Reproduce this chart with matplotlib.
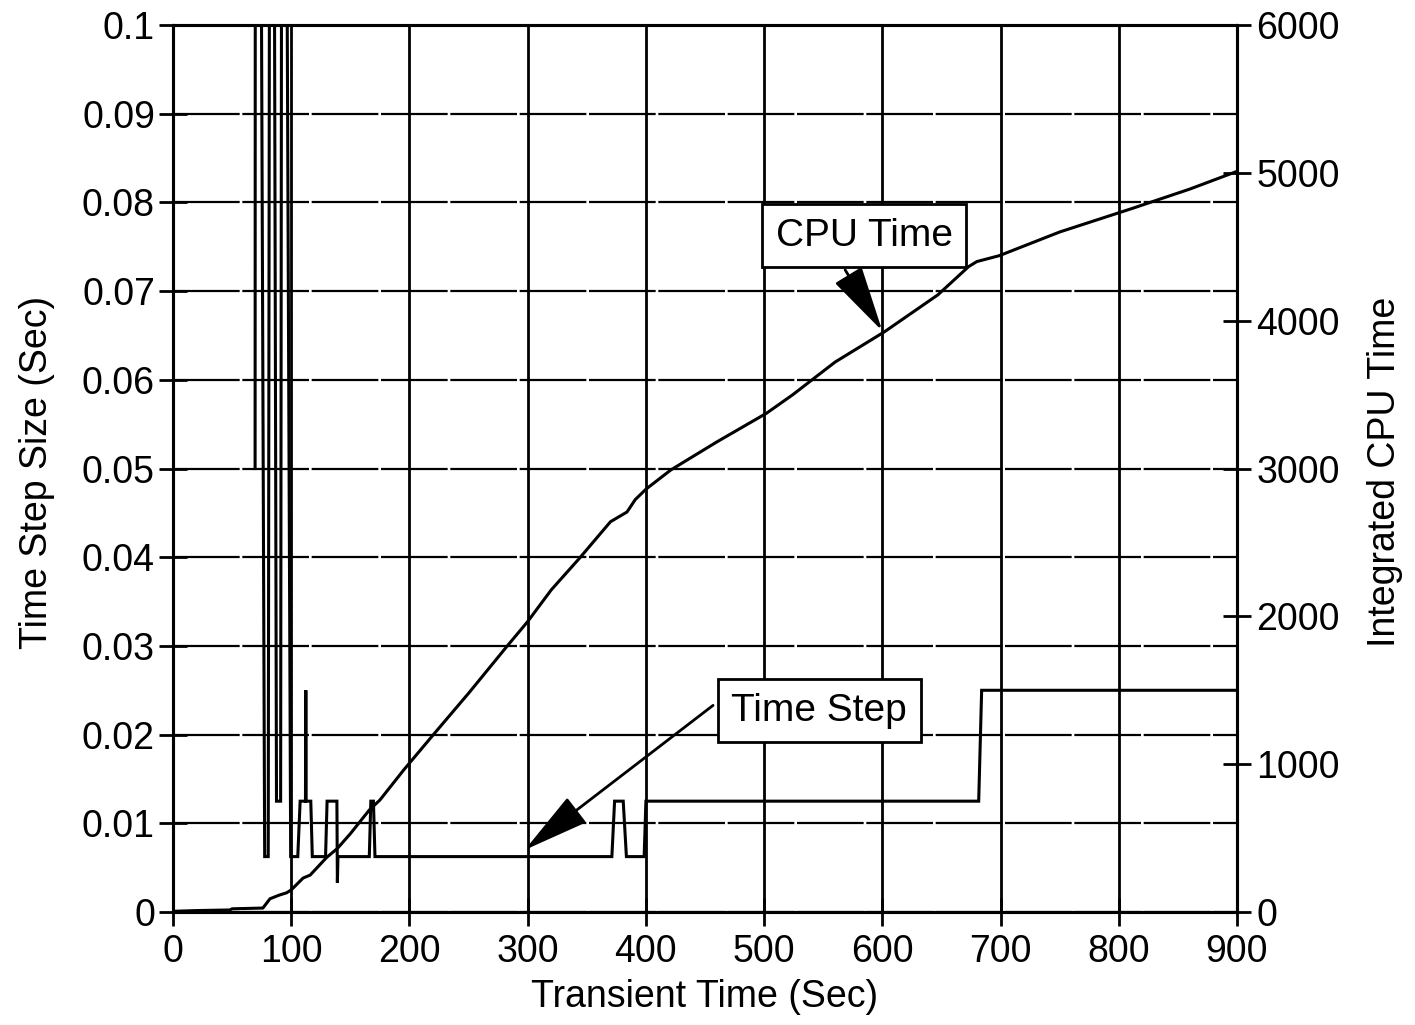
import matplotlib
matplotlib.use("Agg")
import matplotlib.pyplot as plt
from matplotlib.ticker import FixedLocator, FixedFormatter

plt.rcParams['font.family'] = ['Liberation Sans', 'DejaVu Sans']

# ---- data ----
# Time step size (left axis), values >0.1 are off scale (clipped)
ts_time = [69.4, 69.8, 72.0, 77.5, 80.5, 82.5, 84.0, 87.5, 91.0, 92.5, 93.5, 99.5,
           105.5, 107.5, 112.0, 112.3, 112.6, 116.5, 117.8, 129.0, 130.3, 138.6,
           139.0, 139.5, 166.0, 167.3, 169.5, 170.8, 371.2, 373.5, 380.8, 383.5,
           398.5, 400.0, 681.5, 684.0, 900.0]
ts_step = [0.05, 0.2, 0.2, 0.00625, 0.00625, 0.2, 0.2, 0.0125, 0.0125, 0.2, 0.2, 0.00625,
           0.00625, 0.0125, 0.0125, 0.025, 0.0125, 0.0125, 0.00625, 0.00625, 0.0125, 0.0125,
           0.0033, 0.00625, 0.00625, 0.0125, 0.0125, 0.00625, 0.00625, 0.0125, 0.0125, 0.00625,
           0.00625, 0.0125, 0.0125, 0.025, 0.025]

# Integrated CPU time (right axis)
cpu_time = [0, 20, 40, 48, 50, 76, 82, 90, 96, 100, 110, 116, 130, 139, 150, 166, 175,
            195, 220, 250, 282, 300, 320, 344, 370, 384, 391, 400, 421, 460, 502, 524,
            560, 602, 647, 673, 680, 699, 750, 812, 860, 900]
cpu_val = [5, 10, 13, 14, 22, 27, 90, 115, 130, 150, 230, 250, 370, 430, 530, 690, 758,
           960, 1198, 1480, 1793, 1965, 2180, 2395, 2640, 2706, 2790, 2860, 2990, 3180, 3374,
           3498, 3720, 3926, 4175, 4366, 4400, 4440, 4600, 4761, 4890, 5010]

x_ticks = [0, 100, 200, 300, 400, 500, 600, 700, 800, 900]
left_ticks = [0, 0.01, 0.02, 0.03, 0.04, 0.05, 0.06, 0.07, 0.08, 0.09, 0.1]
left_labels = ['0', '0.01', '0.02', '0.03', '0.04', '0.05', '0.06', '0.07', '0.08', '0.09', '0.1']
right_ticks = [0, 1000, 2000, 3000, 4000, 5000, 6000]
right_labels = ['0', '1000', '2000', '3000', '4000', '5000', '6000']

# annotation anchors (data)
cpu_label_pos = (584.5, 4574)
cpu_tail = (568.5, 4344)
cpu_tip = (600, 3930)
step_label_pos = (546.5, 0.0227)
step_tail = (456.8, 0.0233)
step_tip = (297.5, 0.0070)

FS = 27

fig = plt.figure(figsize=(14.15, 10.25), dpi=100)
ax = fig.add_axes([0.1223, 0.1102, 0.7519, 0.8654])
ax2 = ax.twinx()

ax.set_xlim(0, 900)
ax.set_ylim(0, 0.1)
ax2.set_ylim(0, 6000)

ax.set_axisbelow(True)
ax.xaxis.grid(True, color='black', lw=2.0, ls='-')
ax.yaxis.grid(True, color='black', lw=1.6, ls=(0, (30, 1.2)))

ax.plot(ts_time, ts_step, color='black', lw=2.2, solid_joinstyle='miter')
ax2.plot(cpu_time, cpu_val, color='black', lw=2.2)

ax.xaxis.set_major_locator(FixedLocator(x_ticks))
ax.yaxis.set_major_locator(FixedLocator(left_ticks))
ax.yaxis.set_major_formatter(FixedFormatter(left_labels))
ax2.yaxis.set_major_locator(FixedLocator(right_ticks))
ax2.yaxis.set_major_formatter(FixedFormatter(right_labels))

ax.tick_params(axis='x', direction='inout', length=20, width=2, labelsize=FS, pad=6)
ax.tick_params(axis='y', direction='inout', length=20, width=2, labelsize=FS, pad=3)
ax2.tick_params(axis='y', direction='inout', length=20, width=2, labelsize=FS, pad=4)

for a in (ax, ax2):
    for s in a.spines.values():
        s.set_linewidth(2.2)

fig.text(0.0265, 0.5395, 'Time Step Size (Sec)', rotation=90, ha='center', va='center', fontsize=FS)
fig.text(0.979, 0.5395, 'Integrated CPU Time', rotation=90, ha='center', va='center', fontsize=FS)
fig.text(0.498, 0.027, 'Transient Time (Sec)', ha='center', va='center', fontsize=FS)

arrow = dict(arrowstyle='-|>,head_length=1.9,head_width=0.45', lw=2, color='black',
             shrinkA=0, shrinkB=0, mutation_scale=22)
box = dict(boxstyle='square,pad=0.35', fc='white', ec='black', lw=2)

ax2.annotate('', xy=cpu_tip, xytext=cpu_tail, arrowprops=arrow, zorder=4)
ax2.text(*cpu_label_pos, 'CPU Time', fontsize=28, ha='center', va='center', bbox=box, zorder=5)
ax.annotate('', xy=step_tip, xytext=step_tail, arrowprops=arrow, zorder=4)
ax.text(*step_label_pos, 'Time Step', fontsize=28, ha='center', va='center', bbox=box, zorder=5)

fig.savefig('out.png', dpi=100)
